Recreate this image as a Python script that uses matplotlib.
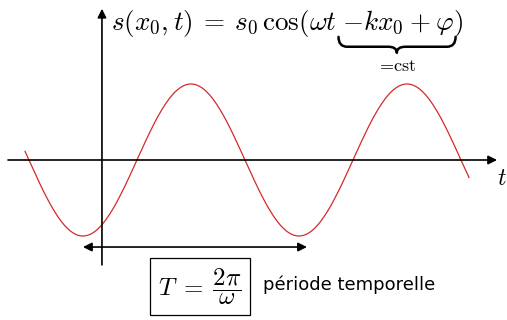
import numpy as np
import matplotlib
matplotlib.use("Agg")
import matplotlib.pyplot as plt
from matplotlib.path import Path
from matplotlib.patches import PathPatch

plt.rcParams['mathtext.fontset'] = 'cm'

# signal parameters (t in units of the period)
s0 = 1.0            # amplitude
T = 1.0             # period
t_peak = 0.412      # time of first maximum
t_start, t_end = -0.356, 1.699

# axis extents
t_axis = [-0.435, 1.829]
s_axis = [-1.38, 1.99]
arrow_period = [-0.088, 0.949]   # double arrow showing the period
arrow_level = -1.145

omega = 2 * np.pi / T
t = np.linspace(t_start, t_end, 400)
s = s0 * np.cos(omega * (t - t_peak))

fig = plt.figure(figsize=(5.07, 3.20), dpi=100)
ax = fig.add_axes([0, 0, 1, 1])
ax.set_xlim(-0.472, 1.875)
ax.set_ylim(-2.105, 2.105)
ax.axis('off')

ax.plot(t, s, color='#d42a2a', lw=0.9)

# axes with arrows
arr = dict(arrowstyle='-|>', color='black', lw=1.2, mutation_scale=13, shrinkA=0, shrinkB=0)
ax.annotate('', xy=(t_axis[1], 0), xytext=(t_axis[0], 0), arrowprops=arr)
ax.annotate('', xy=(0, s_axis[1]), xytext=(0, s_axis[0]), arrowprops=arr)

# period arrow
ax.annotate('', xy=(arrow_period[1], arrow_level), xytext=(arrow_period[0], arrow_level),
            arrowprops=dict(arrowstyle='<|-|>', color='black', lw=1.2, mutation_scale=13,
                            shrinkA=0, shrinkB=0))

# equation
ax.text(0.042, 1.71,
        r'$s(x_0,t)\:=\:s_0\,\cos(\omega t\;{-}kx_0\:+\:\varphi)$',
        fontsize=19.5, va='baseline', ha='left')

# underbrace drawn by hand
x1, x2 = 1.095, 1.637
xm = 1.365
ytop, ymid, ybot = 1.62, 1.49, 1.41
r = 0.04
verts = [(x1, ytop), (x1, ymid), (x1 + r, ymid), (xm - r, ymid), (xm, ymid), (xm, ybot),
         (xm, ymid), (xm + r, ymid), (x2 - r, ymid), (x2, ymid), (x2, ytop)]
codes = [Path.MOVETO, Path.CURVE3, Path.CURVE3, Path.LINETO, Path.CURVE3, Path.CURVE3,
         Path.CURVE3, Path.CURVE3, Path.LINETO, Path.CURVE3, Path.CURVE3]
ax.add_patch(PathPatch(Path(verts, codes), fill=False, lw=1.8, color='black',
                       capstyle='round', joinstyle='round'))
ax.text(xm, 1.24, r'$=\!\mathrm{cst}$', fontsize=13, ha='center', va='center')

# period box
ax.text(0.454, -1.66, r'$T\;=\;\dfrac{2\pi}{\omega}$', fontsize=18, ha='center', va='center',
        bbox=dict(boxstyle='square,pad=0.33', fc='white', ec='black', lw=0.9))
ax.text(0.745, -1.645, 'période temporelle', fontsize=13, ha='left', va='center',
        family='DejaVu Sans')

ax.text(1.852, -0.237, r'$t$', fontsize=17, ha='center', va='center')

fig.savefig('out.png', dpi=100)
